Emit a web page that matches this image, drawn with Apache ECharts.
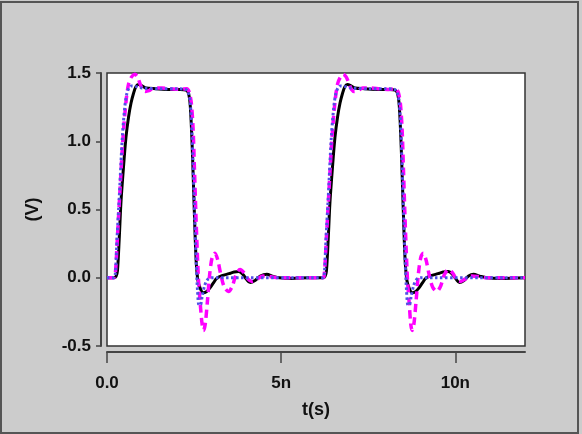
<!DOCTYPE html>
<html>
	<head>
		<meta charset="utf-8">
		<title></title>
		<script src="https://cdn.jsdelivr.net/npm/echarts@6/dist/echarts.min.js"></script>
		<style>
			html, body { margin: 0; padding: 0; background: #cccccc; }
		</style>
	</head>
	<body>
		<div id="main" style="width: 582px;height:434px;"></div>
		<script type="text/javascript">
			// time in ns, voltage in V
			var blackPulse1 = [[0,0],[0.2,0],[0.26,0.01],[0.3,0.05],[0.35,0.28],[0.4,0.55],[0.47,0.8],[0.545,1.03],[0.62,1.18],[0.69,1.28],[0.76,1.35],[0.83,1.4],[0.9,1.415],[0.98,1.41],[1.12,1.39],[1.4,1.385],[1.8,1.38],[2.1,1.38],[2.27,1.375],[2.34,1.35],[2.39,1.26],[2.44,1.0],[2.48,0.7],[2.52,0.38],[2.56,0.12],[2.61,-0.02],[2.68,-0.08],[2.76,-0.11],[2.84,-0.105],[2.94,-0.08],[3.05,-0.04],[3.15,-0.005],[3.3,0.015],[3.5,0.03],[3.65,0.042],[3.78,0.046],[3.9,0.025],[4.0,-0.01],[4.11,-0.035],[4.25,-0.02],[4.4,0.012],[4.59,0.025],[4.75,0.012],[4.95,0],[5.3,-0.005],[5.8,0],[6.2,0]];
			var blackPulse2 = [[6.26,0.01],[6.3,0.05],[6.35,0.28],[6.4,0.55],[6.47,0.8],[6.545,1.03],[6.62,1.18],[6.69,1.28],[6.76,1.35],[6.83,1.4],[6.9,1.415],[6.98,1.41],[7.12,1.39],[7.4,1.385],[7.8,1.38],[8.1,1.38],[8.27,1.375],[8.34,1.35],[8.39,1.26],[8.44,1.0],[8.48,0.7],[8.52,0.38],[8.56,0.12],[8.61,-0.02],[8.68,-0.08],[8.76,-0.11],[8.84,-0.105],[8.94,-0.08],[9.05,-0.04],[9.15,-0.005],[9.3,0.015],[9.5,0.03],[9.65,0.042],[9.8,0.046],[9.92,0.025],[10.02,-0.01],[10.12,-0.035],[10.25,-0.02],[10.38,0.012],[10.52,0.025],[10.7,0.012],[10.9,0],[11.3,-0.005],[12,0]];

			var magentaPulse1 = [[0,0],[0.2,0],[0.24,0.03],[0.3,0.3],[0.36,0.58],[0.46,1.03],[0.55,1.3],[0.62,1.42],[0.7,1.47],[0.8,1.49],[0.88,1.47],[0.95,1.42],[1.02,1.38],[1.1,1.365],[1.2,1.37],[1.34,1.39],[1.58,1.39],[1.82,1.385],[2.1,1.38],[2.29,1.385],[2.36,1.36],[2.42,1.28],[2.47,1.1],[2.51,0.8],[2.55,0.48],[2.59,0.2],[2.63,-0.03],[2.68,-0.2],[2.73,-0.34],[2.77,-0.386],[2.82,-0.34],[2.88,-0.18],[2.95,0.03],[3.02,0.15],[3.1,0.18],[3.18,0.13],[3.27,0.02],[3.37,-0.07],[3.49,-0.1],[3.6,-0.06],[3.7,0.02],[3.82,0.06],[3.94,0.035],[4.05,-0.01],[4.16,-0.027],[4.3,-0.01],[4.48,0.012],[4.65,0.01],[4.9,0],[6.2,0]];
			var magentaPulse2 = [[6.24,0.03],[6.3,0.3],[6.36,0.58],[6.46,1.03],[6.55,1.3],[6.62,1.42],[6.7,1.47],[6.78,1.49],[6.87,1.47],[6.95,1.42],[7.02,1.38],[7.1,1.365],[7.2,1.37],[7.34,1.39],[7.58,1.39],[7.82,1.385],[8.1,1.38],[8.29,1.385],[8.36,1.36],[8.42,1.28],[8.47,1.1],[8.51,0.8],[8.55,0.48],[8.59,0.2],[8.63,-0.03],[8.68,-0.2],[8.72,-0.34],[8.76,-0.386],[8.81,-0.34],[8.87,-0.18],[8.94,0.03],[9.01,0.15],[9.08,0.18],[9.16,0.13],[9.25,0.02],[9.35,-0.07],[9.47,-0.1],[9.58,-0.06],[9.68,0.02],[9.8,0.06],[9.92,0.035],[10.03,-0.01],[10.14,-0.027],[10.28,-0.01],[10.46,0.012],[10.63,0.01],[10.9,0],[12,0]];

			var bluePulse1 = [[0,0],[0.2,0],[0.24,0.03],[0.29,0.3],[0.35,0.58],[0.44,1.03],[0.51,1.25],[0.57,1.35],[0.63,1.39],[0.7,1.405],[0.85,1.4],[1.0,1.39],[1.5,1.385],[2.0,1.385],[2.25,1.38],[2.33,1.36],[2.39,1.28],[2.44,1.05],[2.48,0.75],[2.52,0.42],[2.56,0.12],[2.6,-0.1],[2.64,-0.2],[2.68,-0.2],[2.73,-0.14],[2.8,-0.06],[2.88,-0.015],[3.0,0],[6.2,0]];
			var bluePulse2 = [[6.24,0.03],[6.29,0.3],[6.35,0.58],[6.44,1.03],[6.51,1.25],[6.57,1.35],[6.63,1.39],[6.7,1.405],[6.85,1.4],[7.0,1.39],[7.5,1.385],[8.0,1.385],[8.25,1.38],[8.33,1.36],[8.39,1.28],[8.44,1.05],[8.48,0.75],[8.52,0.42],[8.56,0.12],[8.6,-0.1],[8.64,-0.2],[8.68,-0.2],[8.73,-0.14],[8.8,-0.06],[8.88,-0.015],[9.0,0],[12,0]];

			var xTicks = [0, 5, 10];
			var xTickLabels = ['0.0', '5n', '10n'];

			var myChart = echarts.init(document.getElementById('main'));

			var font = 'Liberation Sans, Arial, sans-serif';

			var option = {
				animation: false,
				backgroundColor: '#cccccc',
				graphic: [{
					type: 'rect',
					shape: { x: 1, y: 2, width: 577, height: 431 },
					style: { fill: 'none', stroke: '#555', lineWidth: 2 }
				}],
				grid: {
					left: 107, top: 73, right: 57, bottom: 88,
					show: true,
					backgroundColor: '#fff',
					borderColor: '#333',
					borderWidth: 1.5
				},
				xAxis: {
					type: 'value',
					min: 0, max: 12,
					offset: 6,
					name: 't(s)',
					nameLocation: 'middle',
					nameGap: 49,
					nameTextStyle: { fontFamily: font, fontWeight: 'bold', fontSize: 18, color: '#111' },
					splitLine: { show: false },
					axisLine: { onZero: false, lineStyle: { color: '#444', width: 2 } },
					axisTick: { length: 11, customValues: xTicks, lineStyle: { color: '#444', width: 1.5 } },
					axisLabel: {
						customValues: xTicks,
						margin: 23,
						fontFamily: font, fontWeight: 'bold', fontSize: 17, color: '#111',
						formatter: function (v) { return xTickLabels[xTicks.indexOf(v)] || ''; }
					}
				},
				yAxis: {
					type: 'value',
					min: -0.5, max: 1.5, interval: 0.5,
					offset: 6,
					name: '(V)',
					nameLocation: 'middle',
					nameGap: 59,
					nameTextStyle: { fontFamily: font, fontWeight: 'bold', fontSize: 18, color: '#111' },
					splitLine: { show: false },
					axisLine: { show: true, onZero: false, lineStyle: { color: '#444', width: 2 } },
					axisTick: { show: true, length: 5, lineStyle: { color: '#444', width: 1.5 } },
					axisLabel: {
						margin: 10,
						fontFamily: font, fontWeight: 'bold', fontSize: 17, color: '#111',
						formatter: function (v) { return v.toFixed(1); }
					}
				},
				series: [
					{
						name: 'black',
						type: 'line',
						data: blackPulse1.concat(blackPulse2),
						showSymbol: false,
						smooth: 0.3,
						lineStyle: { color: '#000', width: 3 }
					},
					{
						name: 'magenta',
						type: 'line',
						data: magentaPulse1.concat(magentaPulse2),
						showSymbol: false,
						smooth: 0.3,
						lineStyle: { color: '#ff00ff', width: 3.5, type: [8, 5] }
					},
					{
						name: 'blue',
						type: 'line',
						data: bluePulse1.concat(bluePulse2),
						showSymbol: false,
						smooth: 0.3,
						lineStyle: { color: '#5050e6', width: 3, type: [2.5, 2.5] }
					}
				]
			};

			myChart.setOption(option);
		</script>
	</body>
</html>
